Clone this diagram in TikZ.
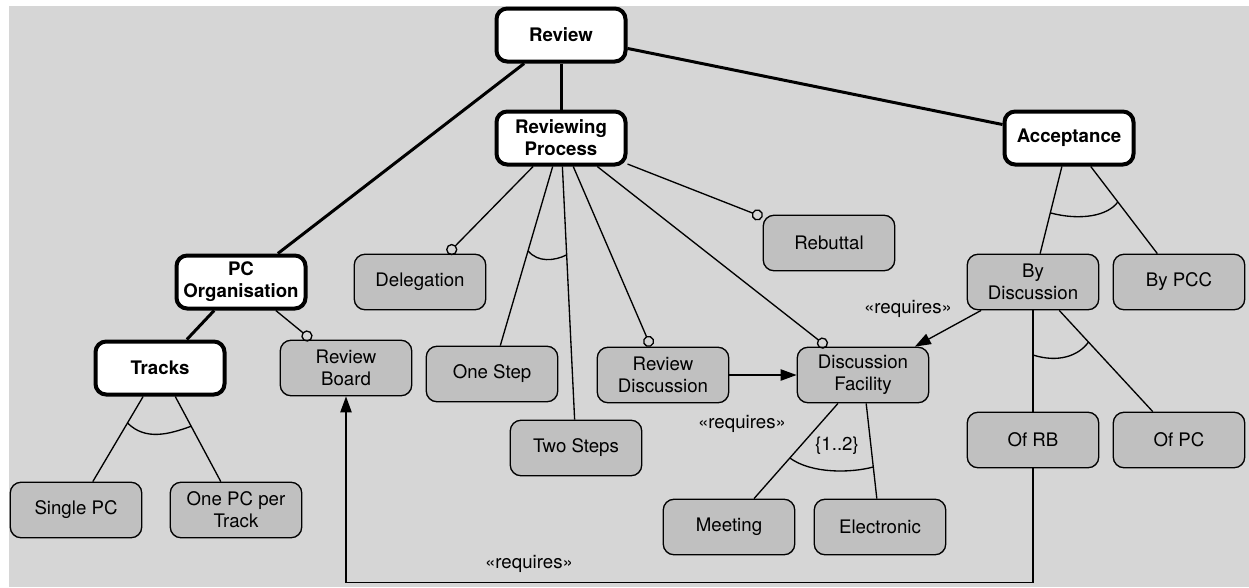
\documentclass[tikz,border=0pt]{standalone}
\usepackage{fontspec}
\setmainfont{TeX Gyre Heros}
\usetikzlibrary{arrows.meta,calc}

\definecolor{bggrey}{RGB}{214,214,214}
\definecolor{featgrey}{RGB}{192,192,192}

\tikzset{every picture/.style={line width=0.75pt}}
\tikzset{
  feat/.style={draw, fill=featgrey, rounded corners=8pt, line width=1pt,
    minimum width=98.6pt, minimum height=41.6pt, inner sep=1pt, align=center,
    font=\fontsize{14}{16.5}\selectfont},
  absfeat/.style={feat, fill=white, line width=3pt,
    minimum width=96.75pt, minimum height=39.75pt,
    font=\fontsize{14}{16.5}\selectfont\bfseries},
  mand/.style={line width=2.25pt},
  sub/.style={line width=1pt},
  opt/.style={line width=1pt, -{Circle[open,length=8.5pt]}},
  req/.style={line width=1pt, -{Triangle[length=12pt,width=8.5pt]}},
  alt/.style={line width=1pt},
  lbl/.style={font=\fontsize{14}{16.5}\selectfont}
}

\begin{document}
\begin{tikzpicture}[x=0.75pt,y=0.75pt,yscale=-1,xscale=1]
\useasboundingbox (0,0) rectangle (1249,587);
%background
\fill[bggrey] (9,6) rectangle (1249,587);

%Abstract features
\node[absfeat] (review) at (561,35) {Review};
\node[absfeat] (process) at (561,138) {Reviewing\\Process};
\node[absfeat] (accept) at (1069,138) {Acceptance};
\node[absfeat] (pcorg) at (241,282) {PC\\Organisation};
\node[absfeat] (tracks) at (160,368) {Tracks};

%Concrete features
\node[feat] (rboard) at (346,368) {Review\\Board};
\node[feat] (deleg) at (420,282) {Delegation};
\node[feat] (rebuttal) at (829,243) {Rebuttal};
\node[feat] (onestep) at (492,374) {One Step};
\node[feat] (twosteps) at (576,448) {Two Steps};
\node[feat] (rdisc) at (663,375) {Review\\Discussion};
\node[feat] (dfac) at (863,375) {Discussion\\Facility};
\node[feat] (meeting) at (729,527) {Meeting};
\node[feat] (electronic) at (880,527) {Electronic};
\node[feat] (bydisc) at (1033,282) {By\\Discussion};
\node[feat] (bypcc) at (1179,282) {By PCC};
\node[feat] (ofrb) at (1033,440) {Of RB};
\node[feat] (ofpc) at (1179,440) {Of PC};
\node[feat] (singlepc) at (76,510) {Single PC};
\node[feat] (onepc) at (236,510) {One PC per\\Track};

%Top level
\draw[mand] (review) -- (process);
\draw[mand] (review) -- (pcorg);
\draw[mand] (review) -- (accept);
\draw[mand] (pcorg) -- (tracks);

%Optional children
\draw[opt] (pcorg) -- (rboard);
\draw[opt] (process) -- (deleg);
\draw[opt] (process) -- (rebuttal);
\draw[opt] (process) -- (rdisc);
\draw[opt] (process) -- (dfac);

%Groups
\draw[sub] (process) -- (onestep);
\draw[sub] (process) -- (twosteps);
\draw[sub] (tracks) -- (singlepc);
\draw[sub] (tracks) -- (onepc);
\draw[sub] (accept) -- (bydisc);
\draw[sub] (accept) -- (bypcc);
\draw[sub] (bydisc) -- (ofrb);
\draw[sub] (bydisc) -- (ofpc);
\draw[sub] (dfac) -- (meeting);
\draw[sub] (dfac) -- (electronic);

%Group arcs
\draw[alt] ($(process)!0.478!(onestep)$) .. controls +(10,12) and +(-12,6) .. ($(process)!0.377!(twosteps)$);
\draw[alt] ($(tracks)!0.387!(singlepc)$) .. controls +(18,18) and +(-22,8) .. ($(tracks)!0.41!(onepc)$);
\draw[alt] ($(accept)!0.52!(bydisc)$) .. controls +(30,8) and +(-10,14) .. ($(accept)!0.444!(bypcc)$);
\draw[alt] ($(bydisc)!0.462!(ofrb)$) .. controls +(25,8) and +(-10,14) .. ($(bydisc)!0.38!(ofpc)$);
\draw[alt] ($(dfac)!0.546!(meeting)$) .. controls +(22,16) and +(-22,6) .. ($(dfac)!0.605!(electronic)$);
\node[lbl] (card) at (837,446) {\{1..2\}};

%Requires
\draw[req] (rdisc) -- (dfac);
\draw[req] (bydisc) -- (dfac);
\draw[req] (ofrb.south) -- ++(0,114) -| (rboard.south);
\node[lbl] (req1) at (908,309) {«requires»};
\node[lbl] (req2) at (742,424) {«requires»};
\node[lbl] (req3) at (529,564) {«requires»};

\end{tikzpicture}
\end{document}
